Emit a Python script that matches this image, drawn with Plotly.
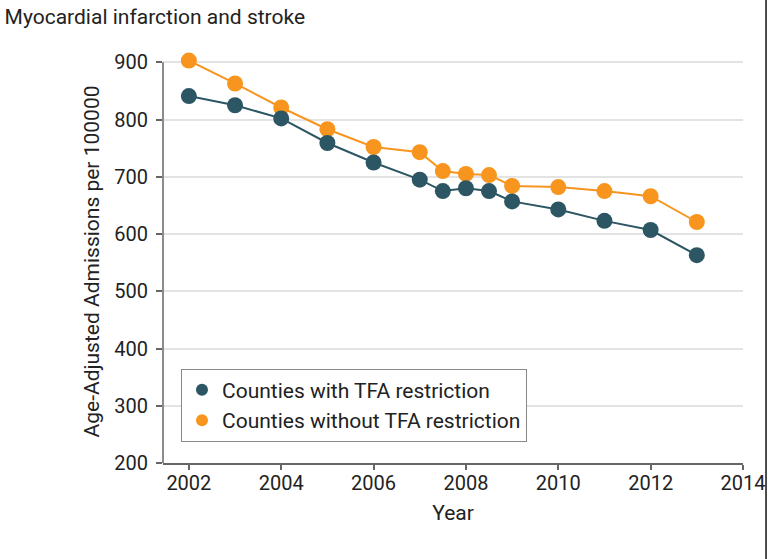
import plotly.graph_objects as go

years = [2002, 2003, 2004, 2005, 2006, 2007, 2007.5, 2008, 2008.5, 2009, 2010, 2011, 2012, 2013]
with_tfa = [841, 825, 802, 759, 725, 695, 675, 680, 675, 657, 643, 623, 607, 563]
without_tfa = [903, 863, 821, 783, 752, 743, 710, 705, 703, 684, 682, 675, 666, 621]

teal = '#2c5664'
orange = '#f7951e'
font = 'Roboto, sans-serif'

fig = go.Figure()

# actual lines (no legend, so the legend shows plain dots)
for vals, col in [(without_tfa, orange), (with_tfa, teal)]:
    fig.add_trace(go.Scatter(
        x=years, y=vals, mode='lines+markers',
        line=dict(color=col, width=2),
        marker=dict(size=16, color=col),
        showlegend=False, cliponaxis=False
    ))

# legend entries
for name, col in [('Counties with TFA restriction', teal), ('Counties without TFA restriction', orange)]:
    fig.add_trace(go.Scatter(
        x=[None], y=[None], mode='markers', name=name,
        marker=dict(size=16, color=col)
    ))

fig.update_layout(
    width=768, height=559,
    margin=dict(l=163, r=25, t=60, b=96, autoexpand=False),
    plot_bgcolor='white', paper_bgcolor='white',
    font=dict(family=font, size=20, color='#222222'),
    title=dict(text='Myocardial infarction and stroke', x=0.006, xanchor='left',
               y=0.97, yanchor='middle', font=dict(size=21)),
    xaxis=dict(range=[2001.44, 2014], tickvals=[2002, 2004, 2006, 2008, 2010, 2012, 2014],
               showgrid=False, showline=True, linecolor='#666666', linewidth=1.5,
               ticks='outside', ticklen=5, tickcolor='#666666', tickwidth=1.5,
               ticklabelstandoff=-4, automargin=False,
               title=dict(text='Year', standoff=12, font=dict(size=21)), zeroline=False),
    yaxis=dict(range=[200, 904], tickvals=[200, 300, 400, 500, 600, 700, 800, 900],
               showgrid=True, gridcolor='#e3e3e3', gridwidth=2,
               showline=False,
               ticks='outside', ticklen=6, tickcolor='#666666', tickwidth=1.5,
               ticklabelstandoff=4, automargin=False,
               title=dict(text='Age-Adjusted Admissions per 100000', standoff=8, font=dict(size=21)),
               zeroline=False),
    legend=dict(x=0.031, y=0.234, xanchor='left', yanchor='top',
                bordercolor='#888888', borderwidth=1, bgcolor='white',
                font=dict(size=21), itemsizing='constant'),
    showlegend=True
)

# y axis line only spans the tick range (200-900)
fig.add_shape(type='line', xref='paper', yref='y', x0=0, x1=0, y0=200, y1=900,
              line=dict(color='#666666', width=1.5))
# right border line
fig.add_shape(type='line', xref='paper', yref='paper', x0=1.0397, x1=1.0397, y0=-0.3, y1=1.2,
              line=dict(color='#111111', width=1.5))

# drop the default 8px page margin so the figure fills the window exactly
fig.write_html('out.html', config={'displayModeBar': False},
               post_script="document.body.style.margin='0';")
